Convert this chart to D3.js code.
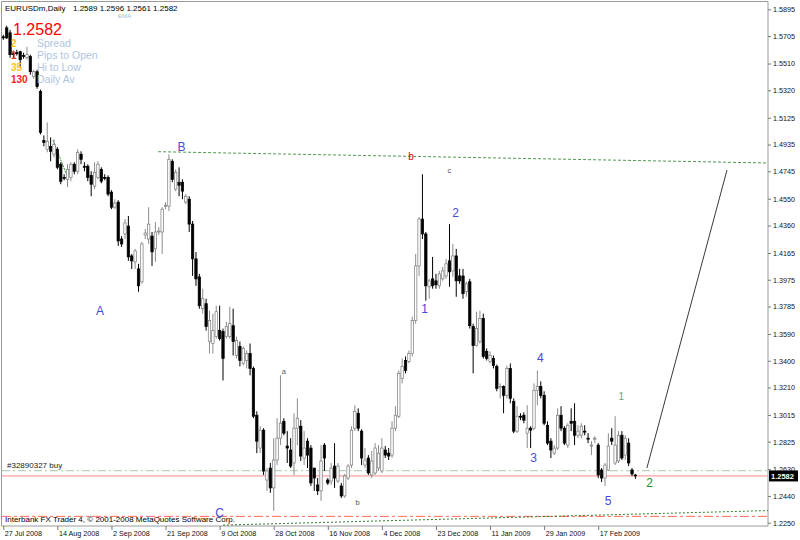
<!DOCTYPE html>
<html><head><meta charset="utf-8">
<script src="https://cdn.jsdelivr.net/npm/d3@7"></script>
<style>
body{margin:0;background:#fff}
svg{display:block}
text{font-family:"Liberation Sans",Arial,sans-serif}
</style>
</head><body>
<svg id="chart" width="800" height="540"></svg>
<script>
// ---------------- data ----------------
const symbolName = "EURUSDm,Daily";
const lastBar = [1.2589, 1.2596, 1.2561, 1.2582]; // O H L C of the last bar

const opens = [1.5700,1.5763,1.5728,1.5580,1.5587,1.5594,1.5566,1.5551,1.5559,1.5417,
1.5452,1.5311,1.4964,1.4901,1.4922,1.4866,1.4901,1.4795,1.4702,1.4688,
1.4702,1.4795,1.4745,1.4866,1.4781,1.4781,1.4716,1.4639,1.4702,1.4759,
1.4702,1.4702,1.4597,1.4490,1.4526,1.4264,1.4300,1.4356,1.4144,1.4102,
1.4052,1.3960,1.4293,1.4264,1.4285,1.4194,1.4314,1.4314,1.4497,1.4497,
1.4816,1.4618,1.4667,1.4667,1.4526,1.4547,1.4370,1.4123,1.3995,1.3769,
1.3805,1.3536,1.3522,1.3571,1.3614,1.3607,1.3571,1.3571,1.3649,1.3437,
1.3501,1.3381,1.3402,1.3451,1.3345,1.3013,1.2780,1.2907,1.2553,1.2638,
1.2497,1.2695,1.2850,1.2970,1.2794,1.2766,1.2674,1.2921,1.2935,1.2709,
1.2829,1.2780,1.2638,1.2518,1.2476,1.2801,1.2553,1.2546,1.2652,1.2546,
1.2511,1.2440,1.2567,1.2659,1.2921,1.3027,1.2900,1.2659,1.2709,1.2589,
1.2603,1.2638,1.2617,1.2766,1.2744,1.2730,1.2921,1.3006,1.3274,1.3402,
1.3395,1.3451,1.3685,1.4073,1.4406,1.4300,1.3925,1.3981,1.3967,1.3932,
1.3981,1.4002,1.4109,1.4038,1.4144,1.4002,1.4002,1.3890,1.3960,1.3642,
1.3508,1.3536,1.3699,1.3466,1.3395,1.3416,1.3359,1.3211,1.3218,1.3154,
1.3345,1.3112,1.2900,1.3006,1.3013,1.2886,1.2921,1.2921,1.3190,1.3218,
1.3154,1.2942,1.2829,1.2744,1.2780,1.3013,1.2921,1.2801,1.2970,1.2970,
1.2871,1.2871,1.2900,1.2850,1.2794,1.2843,1.2801,1.2624,1.2567,1.2624,
1.2850,1.2674,1.2688,1.2871,1.2730,1.2815,1.2624,1.2589];
const highs = [1.5714,1.5778,1.5749,1.5601,1.5608,1.5601,1.5587,1.5629,1.5573,1.5466,
1.5466,1.5325,1.5000,1.5092,1.4985,1.4971,1.4915,1.4809,1.4724,1.4795,
1.4809,1.4809,1.4901,1.4887,1.4809,1.4795,1.4745,1.4809,1.4816,1.4773,
1.4724,1.4716,1.4611,1.4547,1.4540,1.4285,1.4406,1.4427,1.4158,1.4194,
1.4088,1.4243,1.4335,1.4490,1.4314,1.4385,1.4349,1.4490,1.4526,1.4866,
1.4830,1.4759,1.4773,1.4688,1.4583,1.4568,1.4392,1.4172,1.4017,1.3911,
1.3840,1.3755,1.3734,1.3791,1.3791,1.3628,1.3677,1.3783,1.3769,1.3571,
1.3536,1.3501,1.3473,1.3522,1.3359,1.3041,1.2935,1.2921,1.2638,1.2674,
1.2850,1.2992,1.3296,1.2992,1.2900,1.2850,1.3027,1.3133,1.2978,1.2900,
1.2850,1.2801,1.2638,1.2567,1.2801,1.2815,1.2567,1.2674,1.2815,1.2674,
1.2532,1.2596,1.2666,1.2935,1.3084,1.3062,1.2914,1.2780,1.2730,1.2759,
1.2815,1.2801,1.2850,1.2794,1.2780,1.2971,1.3077,1.3331,1.3416,1.3430,
1.3473,1.3713,1.4158,1.4420,1.4724,1.4314,1.3981,1.4137,1.4017,1.4038,
1.4066,1.4123,1.4370,1.4229,1.4194,1.4052,1.4052,1.3960,1.3981,1.3663,
1.3748,1.3755,1.3734,1.3487,1.3466,1.3437,1.3373,1.3239,1.3225,1.3366,
1.3381,1.3133,1.3077,1.3027,1.3034,1.3084,1.2935,1.3239,1.3331,1.3253,
1.3183,1.2970,1.2850,1.2801,1.3062,1.3077,1.2935,1.2956,1.3062,1.3098,
1.2942,1.2956,1.2942,1.2886,1.2829,1.2864,1.2815,1.2638,1.2674,1.2886,
1.2921,1.3006,1.2900,1.2900,1.2871,1.2850,1.2638,1.2596];
const lows = [1.5678,1.5685,1.5551,1.5551,1.5566,1.5480,1.5544,1.5537,1.5431,1.5402,
1.5331,1.5007,1.4922,1.4880,1.4816,1.4844,1.4759,1.4653,1.4681,1.4632,
1.4674,1.4724,1.4724,1.4795,1.4745,1.4674,1.4568,1.4618,1.4688,1.4660,
1.4681,1.4568,1.4476,1.4476,1.4215,1.4208,1.4264,1.4109,1.4052,1.4052,
1.3890,1.3946,1.4264,1.4229,1.4073,1.4102,1.4293,1.4158,1.4476,1.4462,
1.4667,1.4604,1.4568,1.4547,1.4512,1.4314,1.4002,1.3932,1.3769,1.3734,
1.3614,1.3451,1.3451,1.3557,1.3543,1.3260,1.3557,1.3557,1.3437,1.3416,
1.3359,1.3366,1.3345,1.3296,1.2992,1.2744,1.2744,1.2589,1.2476,1.2462,
1.2334,1.2659,1.2801,1.2871,1.2674,1.2638,1.2589,1.2801,1.2688,1.2659,
1.2638,1.2511,1.2476,1.2447,1.2405,1.2617,1.2518,1.2518,1.2497,1.2532,
1.2426,1.2426,1.2553,1.2638,1.2900,1.2900,1.2659,1.2638,1.2589,1.2567,
1.2589,1.2617,1.2603,1.2709,1.2695,1.2709,1.2900,1.2992,1.3239,1.3310,
1.3381,1.3430,1.3663,1.4002,1.4264,1.3826,1.3840,1.3911,1.3911,1.3911,
1.3967,1.3981,1.3925,1.3995,1.3854,1.3946,1.3840,1.3854,1.3628,1.3310,
1.3501,1.3522,1.3416,1.3402,1.3381,1.3345,1.3183,1.3133,1.3027,1.3133,
1.3098,1.2886,1.2886,1.2978,1.2956,1.2780,1.2780,1.2907,1.3084,1.3133,
1.2942,1.2801,1.2709,1.2730,1.2766,1.2900,1.2801,1.2780,1.2900,1.2801,
1.2850,1.2850,1.2871,1.2815,1.2730,1.2815,1.2567,1.2539,1.2511,1.2617,
1.2801,1.2659,1.2674,1.2695,1.2695,1.2652,1.2581,1.2561];
const closes = [1.5692,1.5692,1.5573,1.5573,1.5580,1.5537,1.5559,1.5573,1.5452,1.5452,
1.5346,1.5021,1.4950,1.4957,1.4887,1.4936,1.4773,1.4674,1.4695,1.4759,
1.4795,1.4745,1.4880,1.4830,1.4773,1.4702,1.4653,1.4738,1.4795,1.4674,
1.4695,1.4583,1.4490,1.4519,1.4250,1.4229,1.4378,1.4137,1.4109,1.4180,
1.3932,1.4229,1.4307,1.4370,1.4173,1.4314,1.4321,1.4476,1.4504,1.4830,
1.4688,1.4738,1.4646,1.4604,1.4568,1.4370,1.4123,1.3981,1.3790,1.3840,
1.3642,1.3685,1.3614,1.3748,1.3557,1.3416,1.3642,1.3663,1.3536,1.3543,
1.3402,1.3487,1.3451,1.3345,1.3006,1.2829,1.2907,1.2617,1.2617,1.2497,
1.2695,1.2850,1.2956,1.2886,1.2780,1.2652,1.2921,1.2992,1.2723,1.2780,
1.2730,1.2532,1.2567,1.2476,1.2688,1.2709,1.2532,1.2638,1.2567,1.2652,
1.2440,1.2582,1.2652,1.2907,1.3041,1.2921,1.2709,1.2695,1.2603,1.2688,
1.2780,1.2744,1.2780,1.2730,1.2723,1.2921,1.3013,1.3310,1.3359,1.3331,
1.3451,1.3685,1.4073,1.4406,1.4300,1.3932,1.3967,1.3932,1.3939,1.4017,
1.4038,1.4088,1.4031,1.4144,1.3967,1.3967,1.3876,1.3946,1.3649,1.3508,
1.3628,1.3699,1.3430,1.3416,1.3437,1.3366,1.3204,1.3218,1.3154,1.3345,
1.3133,1.2900,1.3006,1.2999,1.2978,1.2921,1.2907,1.3190,1.3218,1.3154,
1.2956,1.2815,1.2766,1.2780,1.3013,1.2921,1.2815,1.2942,1.2956,1.2871,
1.2900,1.2935,1.2893,1.2843,1.2801,1.2850,1.2589,1.2567,1.2659,1.2794,
1.2829,1.2801,1.2871,1.2709,1.2850,1.2674,1.2596,1.2582];

const dateLabels = ["27 Jul 2008","14 Aug 2008","2 Sep 2008","21 Sep 2008","9 Oct 2008","28 Oct 2008",
"16 Nov 2008","4 Dec 2008","23 Dec 2008","11 Jan 2009","29 Jan 2009","17 Feb 2009"];
const dateBarIndex = [0,16,32,48,64,80,96,112,128,144,160,176];
const priceTicks = [1.5895,1.5705,1.5510,1.5320,1.5125,1.4935,1.4745,1.4550,1.4360,1.4165,
1.3975,1.3785,1.3590,1.3400,1.3210,1.3015,1.2825,1.2630,1.2440,1.2250];

const bidPrice = 1.2582;
const buyOrderPrice = 1.2619;
const buyOrderLabel = "#32890327 buy";
const redLevelPrice = 1.2295;
// trend lines: [barIndex, price]
const lineB = [[45.8,1.4884],[226.2,1.4804]];
const lineProjection = [[190.4,1.2638],[214.1,1.4754]];
const lineSupport = [[65.0,1.2233],[226.2,1.2336]];
const lineSmallWave = [[14.7,1.4967],[19.1,1.4697]];
// wave labels: text, barIndex, price, kind
const waveLabels = [
 ["B",52.7,1.4914,"major"],["A",28.6,1.3753,"major"],["C",64.0,1.2319,"major"],
 ["a",83.0,1.3323,"minor"],["b",104.8,1.2390,"minor"],["b",120.6,1.4853,"red"],
 ["c",132.0,1.4747,"minor"],["1",124.6,1.3767,"major"],["2",133.8,1.4452,"major"],
 ["3",156.9,1.2709,"major"],["4",158.9,1.3416,"major"],["5",178.9,1.2404,"major"],
 ["1",182.8,1.3146,"green1"],["2",191.2,1.2535,"green2"]
];
const infoValues = ["2","1","35","130"];
const infoNames = ["Spread","Pips to Open","Hi to Low","Daily Av"];
const copyright = "Interbank FX Trader 4, \u00a9 2001-2008 MetaQuotes Software Corp.";

// ---------------- styles ----------------
const labelStyle = {
  major:{fill:"#4848d8",size:12}, minor:{fill:"#555",size:7.5}, red:{fill:"#e00000",size:10},
  green1:{fill:"#6f9f6f",size:10}, green2:{fill:"#228b22",size:12}
};
const infoColors = ["#ffc020","#e04020","#ffc020","#ff2020"];

// ---------------- drawing ----------------
const svg = d3.select("#chart");
svg.append("rect").attr("width",800).attr("height",540).attr("fill","#fff");

const x = d3.scaleLinear().domain([0,187]).range([3.3,635.4]);
const y = d3.scaleLinear().domain([1.2250,1.5895]).range([522.7,9.3]);
const R = 768, B = 526;

// frame
svg.append("path").attr("d",`M1.5,${B}V1.5H${R}V${B}H1.5`).attr("fill","none").attr("stroke","#9a9a9a");

const line = d3.line().x(d=>x(d[0])).y(d=>y(d[1]));
const plot = svg.append("g");

// horizontal levels
function hline(p, color, dash, w){
  plot.append("line").attr("x1",2).attr("x2",R).attr("y1",y(p)).attr("y2",y(p))
    .attr("stroke",color).attr("stroke-width",w||1).attr("stroke-dasharray",dash||null);
}
hline(buyOrderPrice,"#a9c6a9","8,3,2,3");
hline(bidPrice,"#ffa0a0",null,1.2);
hline(redLevelPrice,"#ff6a50","9,3,3,3");

plot.append("path").datum(lineB).attr("d",line).attr("fill","none")
  .attr("stroke","#4f9a4f").attr("stroke-dasharray","3,2");
plot.append("path").datum(lineSupport).attr("d",line).attr("fill","none")
  .attr("stroke","#2e7d2e").attr("stroke-dasharray","2,2");
plot.append("path").datum(lineSmallWave).attr("d",line).attr("fill","none")
  .attr("stroke","#2e8b2e").attr("stroke-dasharray","2,1");
plot.append("path").datum(lineProjection).attr("d",line).attr("fill","none")
  .attr("stroke","#222").attr("stroke-width",0.9);

// candles
const bars = opens.map((o,i)=>({i,o,h:highs[i],l:lows[i],c:closes[i]}));
const cg = plot.append("g");
cg.selectAll("line.w").data(bars).join("line")
  .attr("x1",d=>x(d.i)).attr("x2",d=>x(d.i))
  .attr("y1",d=>y(d.h)).attr("y2",d=>y(d.l))
  .attr("stroke",d=>d.c>=d.o?"#8c8c8c":"#000").attr("stroke-width",1);
cg.selectAll("rect.b").data(bars).join("rect")
  .attr("x",d=>x(d.i)-1.2).attr("width",2.4)
  .attr("y",d=>y(Math.max(d.o,d.c)))
  .attr("height",d=>Math.max(0.8,Math.abs(y(d.o)-y(d.c))))
  .attr("fill",d=>d.c>=d.o?"#fff":"#000")
  .attr("stroke",d=>d.c>=d.o?"#7a7a7a":"#000").attr("stroke-width",0.7);

// wave labels
svg.append("g").selectAll("text").data(waveLabels).join("text")
  .attr("x",d=>x(d[1])).attr("y",d=>y(d[2]))
  .attr("text-anchor","middle").attr("dominant-baseline","central")
  .attr("font-size",d=>labelStyle[d[3]].size).attr("fill",d=>labelStyle[d[3]].fill)
  .text(d=>d[0]);

// axes
const yAxis = svg.append("g").attr("transform",`translate(${R},0)`)
  .call(d3.axisRight(y).tickValues(priceTicks).tickSize(3).tickPadding(2).tickFormat(d3.format(".4f")));
yAxis.select(".domain").remove();
yAxis.selectAll("line").attr("stroke","#777");
yAxis.selectAll("text").attr("font-size",7.2).attr("fill","#111").attr("font-family","Liberation Sans, Arial");

const xAxis = svg.append("g").attr("transform",`translate(0,${B})`)
  .call(d3.axisBottom(x).tickValues(dateBarIndex).tickSize(4).tickPadding(1)
    .tickFormat((d,i)=>dateLabels[i]));
xAxis.select(".domain").remove();
xAxis.selectAll("line").attr("stroke","#777");
xAxis.selectAll("text").attr("text-anchor","start").attr("dx",1)
  .attr("font-size",7.2).attr("fill","#111").attr("font-family","Liberation Sans, Arial");

// bid box
svg.append("rect").attr("x",R+1).attr("y",y(bidPrice)-5.5).attr("width",29).attr("height",11).attr("fill","#000");
svg.append("text").attr("x",R+3).attr("y",y(bidPrice)+3).attr("font-size",7.5).attr("font-weight","bold")
  .attr("fill","#fff").text(d3.format(".4f")(bidPrice));

// texts
svg.append("text").attr("x",5).attr("y",11).attr("font-size",8).attr("fill","#000").text(symbolName);
svg.append("text").attr("x",73).attr("y",11).attr("font-size",8).attr("fill","#000")
  .text(lastBar.map(d3.format(".4f")).join(" "));
svg.append("text").attr("x",118).attr("y",18).attr("font-size",6).attr("fill","#a8bcd8").text("EMA");
svg.append("text").attr("x",13).attr("y",35).attr("font-size",16).attr("fill","#ff0000")
  .text(d3.format(".4f")(lastBar[3]));
infoNames.forEach((n,k)=>{
  svg.append("text").attr("x",37).attr("y",46.5+k*12.3).attr("font-size",10.5).attr("fill","#b0c4de").text(n);
  svg.append("text").attr("x",11).attr("y",46.5+k*12.3).attr("font-size",10).attr("font-weight","bold")
    .attr("fill",infoColors[k]).text(infoValues[k]);
});
svg.append("text").attr("x",7).attr("y",468).attr("font-size",8).attr("fill","#222").text(buyOrderLabel);
svg.append("text").attr("x",5).attr("y",522).attr("font-size",8).attr("fill","#000").text(copyright);
</script>
</body></html>
